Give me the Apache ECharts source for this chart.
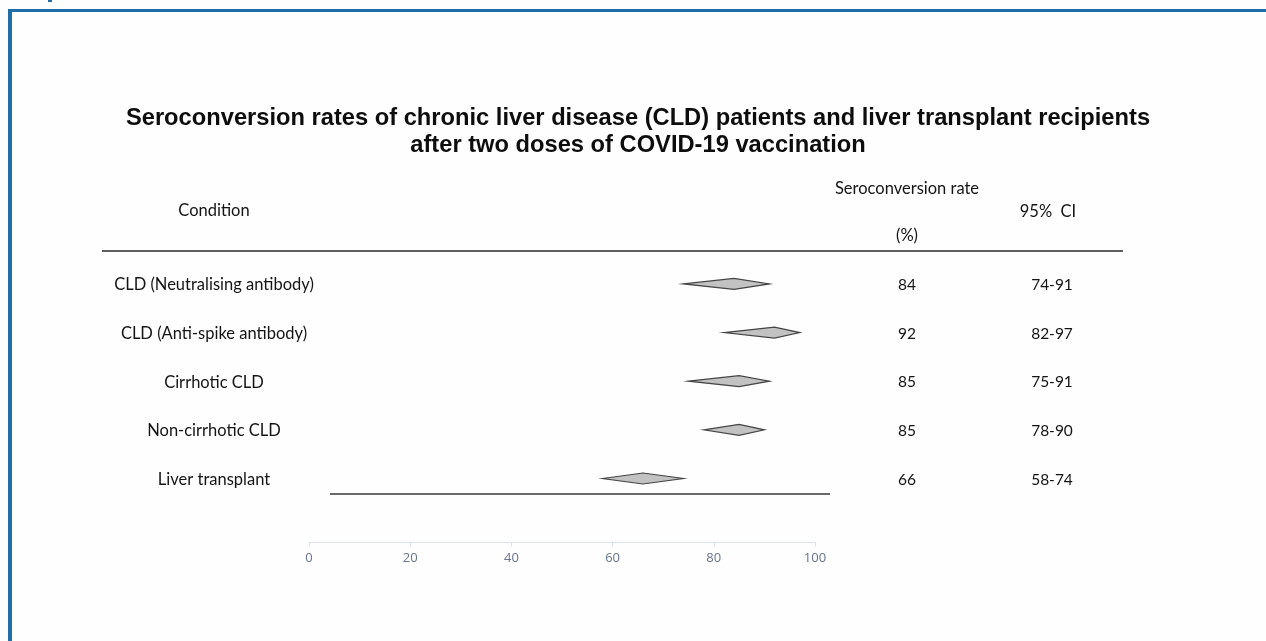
<!DOCTYPE html>
<html>
<head>
<meta charset="utf-8">
<script src="https://cdn.jsdelivr.net/npm/echarts@6/dist/echarts.min.js"></script>
<style>
  html, body { margin: 0; padding: 0; background: #fefefe; }
  #chart { width: 1266px; height: 641px; }
</style>
</head>
<body>
<div id="chart"></div>
<script>
// Forest-style summary: seroconversion rate with 95% confidence interval per group
const conditions = [
  'CLD (Neutralising antibody)',
  'CLD (Anti-spike antibody)',
  'Cirrhotic CLD',
  'Non-cirrhotic CLD',
  'Liver transplant'
];
const rates = [84, 92, 85, 85, 66];
const ciLow = [74, 82, 75, 78, 58];
const ciHigh = [91, 97, 91, 90, 74];
const xTicks = [0, 20, 40, 60, 80, 100];

const titleText = 'Seroconversion rates of chronic liver disease (CLD) patients and liver transplant recipients\nafter two doses of COVID-19 vaccination';

const bodyFont = 'Lato, "Open Sans", sans-serif';
const wordFont = '16.5px ' + bodyFont;
const numFont = '15.5px ' + bodyFont;
const textColor = '#141414';

const rows = conditions.map((c, i) => [i, rates[i], ciLow[i], ciHigh[i]]);

const chart = echarts.init(document.getElementById('chart'));

chart.setOption({
  backgroundColor: '#fefefe',
  animation: false,
  title: {
    text: titleText,
    left: 633,
    top: 100,
    textAlign: 'center',
    textStyle: {
      fontFamily: '"Liberation Sans", Arial, sans-serif',
      fontWeight: 'bold',
      fontSize: 23.7,
      lineHeight: 27,
      color: '#0d0d0d'
    }
  },
  grid: { left: 309, right: 451, top: 235.25, height: 306.5 },
  xAxis: {
    type: 'value',
    min: 0,
    max: 100,
    interval: 20,
    axisLine: { show: true, onZero: false, lineStyle: { color: '#dde3ee', width: 1 } },
    axisTick: { show: true, length: 5, lineStyle: { color: '#dde3ee' } },
    splitLine: { show: false },
    axisLabel: {
      color: '#66748d',
      fontSize: 13,
      fontFamily: '"Open Sans", "Noto Sans", sans-serif',
      margin: 10,
      formatter: v => xTicks.includes(v) ? String(v) : ''
    }
  },
  yAxis: {
    type: 'value',
    min: -1,
    max: 5.3,
    inverse: true,
    show: false
  },
  graphic: [
    // page frame
    { type: 'rect', shape: { x: 8, y: 9, width: 1258, height: 3 }, style: { fill: '#1f6ea8' } },
    { type: 'rect', shape: { x: 8, y: 9, width: 4, height: 632 }, style: { fill: '#1f6ea8' } },
    { type: 'rect', shape: { x: 48, y: 0, width: 4, height: 2 }, style: { fill: '#1f6ea8' } },
    // column headers
    { type: 'text', x: 214, y: 211, style: { text: 'Condition', font: wordFont, fill: textColor, align: 'center', verticalAlign: 'middle' } },
    { type: 'text', x: 907, y: 189, style: { text: 'Seroconversion rate', font: wordFont, fill: textColor, align: 'center', verticalAlign: 'middle' } },
    { type: 'text', x: 907, y: 236, style: { text: '(%)', font: wordFont, fill: textColor, align: 'center', verticalAlign: 'middle' } },
    { type: 'text', x: 1048, y: 212, style: { text: '95%  CI', font: wordFont, fill: textColor, align: 'center', verticalAlign: 'middle' } },
    // rules
    { type: 'line', shape: { x1: 102, y1: 251, x2: 1123, y2: 251 }, style: { stroke: '#2a2a2a', lineWidth: 1.3 } },
    { type: 'line', shape: { x1: 330, y1: 494, x2: 830, y2: 494 }, style: { stroke: '#6a6a6a', lineWidth: 2 } }
  ],
  series: [{
    type: 'custom',
    data: rows,
    encode: { x: [1, 2, 3], y: 0 },
    renderItem: function (params, api) {
      const i = api.value(0);
      const c = api.coord([api.value(1), i]);
      const lo = api.coord([api.value(2), i]);
      const hi = api.coord([api.value(3), i]);
      const hh = 5.5;
      const y = c[1];
      return {
        type: 'group',
        children: [
          {
            type: 'polygon',
            shape: { points: [[lo[0], y], [c[0], y - hh], [hi[0], y], [c[0], y + hh]] },
            style: { fill: '#c2c2c2', stroke: '#454545', lineWidth: 1.2 }
          },
          {
            type: 'text', x: 214, y: y + 1,
            style: { text: conditions[i], font: wordFont, fill: textColor, align: 'center', verticalAlign: 'middle' }
          },
          {
            type: 'text', x: 907, y: y + 1,
            style: { text: String(rates[i]), font: numFont, fill: textColor, align: 'center', verticalAlign: 'middle' }
          },
          {
            type: 'text', x: 1052, y: y + 1,
            style: { text: ciLow[i] + '-' + ciHigh[i], font: numFont, fill: textColor, align: 'center', verticalAlign: 'middle' }
          }
        ]
      };
    }
  }]
});
</script>
</body>
</html>
